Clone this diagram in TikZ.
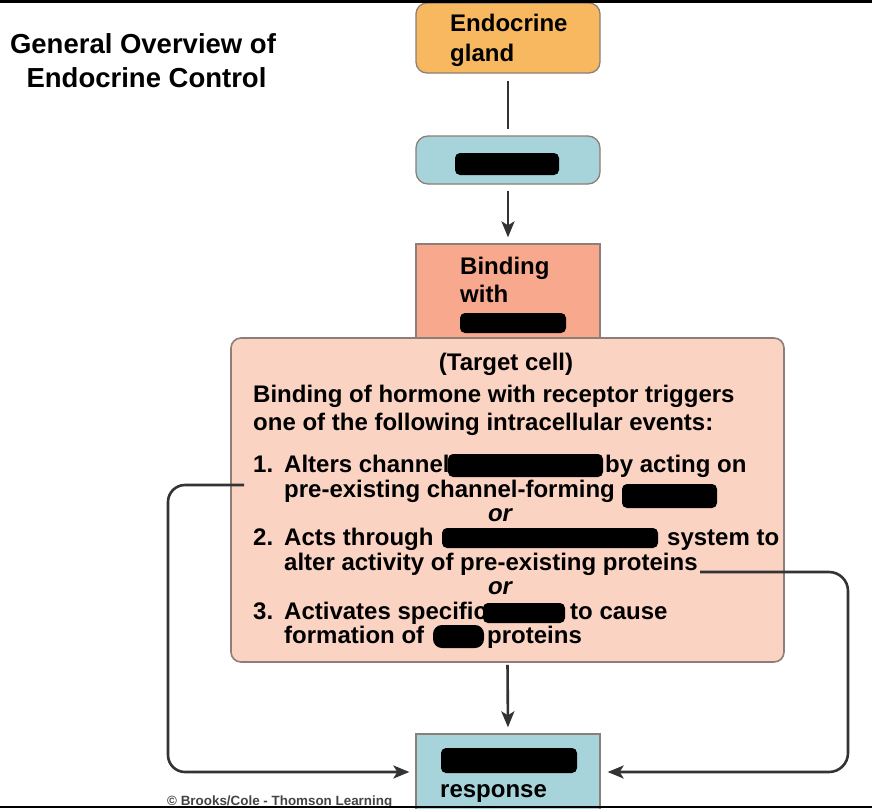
\documentclass[tikz,border=0pt]{standalone}
\usepackage{fontspec}
\setmainfont{Liberation Sans}
\usetikzlibrary{arrows.meta}
\definecolor{glandc}{HTML}{F8B85F}
\definecolor{hormc}{HTML}{A7D4DB}
\definecolor{bindc}{HTML}{F8A88D}
\definecolor{cellc}{HTML}{FAD3C3}
\definecolor{edgec}{HTML}{8C7F77}
\definecolor{linec}{HTML}{333333}
\definecolor{copyc}{HTML}{444444}
\begin{document}
\begin{tikzpicture}[x=1pt,y=-1pt,
  tx/.style={font=\fontsize{24}{28}\selectfont\bfseries, inner sep=0pt, anchor=base west, text=black},
  txc/.style={tx, anchor=base},
  orx/.style={txc, font=\fontsize{24}{28}\selectfont\bfseries\itshape},
  ttl/.style={font=\fontsize{27.5}{32}\selectfont\bfseries, inner sep=0pt, anchor=base},
  boxn/.style={draw=edgec, line width=1.3pt, inner sep=0pt, minimum width=184pt},
  ln/.style={draw=linec, line width=2.6pt},
  arr/.style={ln, -{Stealth[length=16pt,width=13pt,inset=4pt]}},
  blob/.style={fill=black, rounded corners=5pt}]
\useasboundingbox (0,0) rectangle (872,808);
\fill[white] (0,0) rectangle (872,808);

% title
\node[ttl] (title1) at (143,53) {General Overview of};
\node[ttl] (title2) at (146.5,87) {Endocrine Control};

% boxes
\node[boxn, fill=glandc, rounded corners=11pt, minimum height=70pt] (gland) at (508,38) {};
\node[boxn, fill=hormc, rounded corners=12pt, minimum height=48pt] (horm) at (508,160) {};
\node[boxn, fill=bindc, minimum height=106pt] (bind) at (508,297) {};
\node[boxn, fill=cellc, rounded corners=10pt, line width=1.6pt, minimum width=553pt, minimum height=324pt] (cell) at (507.5,500) {};
\node[boxn, fill=hormc, minimum height=76pt] (resp) at (508,772) {};

% vertical connectors
\draw[ln, shorten <=7pt, shorten >=6pt] (gland.south) -- (horm.north);
\draw[arr, shorten <=6pt, shorten >=6pt] (horm.south) -- (bind.north);
\draw[arr, shorten <=2pt, shorten >=6pt] (cell.south) -- (resp.north);

% side connectors
\coordinate (Lstart) at (244,485);
\coordinate (Rstart) at (700,572);
\draw[arr, rounded corners=17pt, shorten >=6pt] (Lstart) -- (168,485) -- (168,772) -- (resp.west);
\draw[arr, rounded corners=19pt, shorten >=7pt] (Rstart) -- (848,572) -- (848,772) -- (resp.east);

% box texts
\node[tx] (g1) at (450,32) {Endocrine};
\node[tx] (g2) at (450,61) {gland};
\node[tx] (b1) at (460,274) {Binding};
\node[tx] (b2) at (460,302) {with};
\node[tx] (r1) at (440,797) {response};

\node[txc] (c0) at (506,370) {(Target cell)};
\node[tx] (c1) at (253,402) {Binding of hormone with receptor triggers};
\node[tx] (c2) at (253,430) {one of the following intracellular events:};

\node[tx] (n1) at (253,472) {1.};
\node[tx] (i1a) at (284,472) {Alters channel};
\node[tx] (i1b) at (605,472) {by acting on};
\node[tx] (i1c) at (284,497) {pre-existing channel-forming};
\node[orx] (or1) at (500,521) {or};
\node[tx] (n2) at (253,545.5) {2.};
\node[tx] (i2a) at (284,545.5) {Acts through};
\node[tx] (i2b) at (667,545.5) {system to};
\node[tx] (i2c) at (284,570) {alter activity of pre-existing proteins};
\node[orx] (or2) at (500,594.5) {or};
\node[tx] (n3) at (253,619) {3.};
\node[tx] (i3a) at (284,619) {Activates specific};
\node[tx] (i3b) at (570,619) {to cause};
\node[tx] (i3c) at (284,643.5) {formation of};
\node[tx] (i3d) at (487,643.5) {proteins};

% blobs
\fill[blob] (455,153) rectangle (559,175);
\fill[blob] (460,313) rectangle (566,333);
\fill[blob] (448,454) rectangle (603,477);
\fill[blob] (622,484) rectangle (717,508);
\fill[blob] (442,528) rectangle (658,548);
\fill[blob] (483,603) rectangle (565,623);
\fill[blob, rounded corners=9pt] (433,625) rectangle (484,648);
\fill[blob] (441,748) rectangle (577,773);

% copyright
\node[inner sep=0pt, anchor=base west, text=copyc, font=\fontsize{13.4}{15}\selectfont\bfseries] (copy) at (167,805) {\textcopyright\ Brooks/Cole - Thomson Learning};

% frame bars
\fill[black] (0,0) rectangle (872,2.8);
\fill[black] (0,805.5) rectangle (872,808);
\end{tikzpicture}
\end{document}
